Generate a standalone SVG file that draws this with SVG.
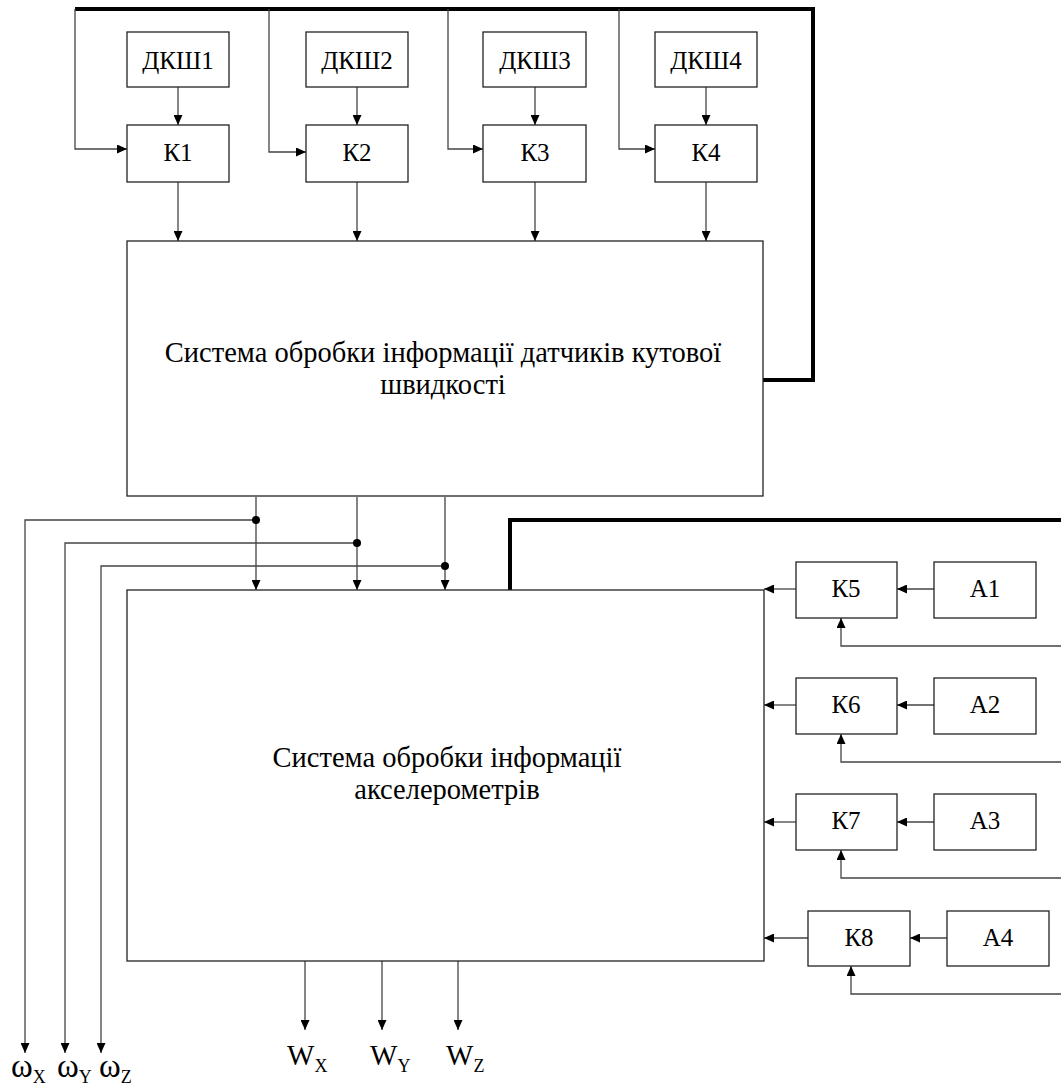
<svg xmlns="http://www.w3.org/2000/svg" width="1061" height="1089" viewBox="0 0 1061 1089" font-family="'Liberation Serif', 'Times New Roman', serif">
<defs>
<style>
.box{fill:#fff;stroke:#222;stroke-width:1.3}
.ln{fill:none;stroke:#444;stroke-width:1.3}
.arr{marker-end:url(#ah)}
.thick{fill:none;stroke:#000;stroke-width:4}
text{font-family:'Liberation Serif','Times New Roman',serif;fill:#000}
.lbl{font-size:25px;text-anchor:middle}
.big{font-size:28.5px;text-anchor:middle}
.out{font-size:29px}
.om{font-size:33px}
.sub{font-size:18px}
</style>
<marker id="ah" markerUnits="userSpaceOnUse" markerWidth="10" markerHeight="9" refX="10" refY="4.5" orient="auto">
<path d="M0,0 L10,4.5 L0,9 z" fill="#000"/>
</marker>
</defs>
<rect width="1061" height="1089" fill="#fff"/>
<g id="connectors">
<path class="thick" d="M75,9 H813 V380 H763"/>
<path class="thick" d="M510,590 V520 H1061"/>
<path class="ln arr" d="M75,9 V149 H127"/>
<path class="ln arr" d="M269,9 V152 H306"/>
<path class="ln arr" d="M448,9 V149 H483"/>
<path class="ln arr" d="M619,9 V149 H655"/>
<path class="ln arr" d="M178,87 V125"/>
<path class="ln arr" d="M357,87 V125"/>
<path class="ln arr" d="M535,87 V125"/>
<path class="ln arr" d="M706,87 V125"/>
<path class="ln arr" d="M178,182 V241"/>
<path class="ln arr" d="M357,182 V241"/>
<path class="ln arr" d="M535,182 V241"/>
<path class="ln arr" d="M706,182 V241"/>
<path class="ln arr" d="M256,497 V590"/>
<path class="ln arr" d="M357,497 V590"/>
<path class="ln arr" d="M445,497 V590"/>
<path class="ln arr" d="M256,520 H25 V1053"/>
<path class="ln arr" d="M357,543 H65 V1053"/>
<path class="ln arr" d="M445,566 H101 V1053"/>
<circle cx="256" cy="520" r="4" fill="#000"/>
<circle cx="357" cy="543" r="4" fill="#000"/>
<circle cx="445" cy="566" r="4" fill="#000"/>
<path class="ln arr" d="M305,961 V1030"/>
<path class="ln arr" d="M382,961 V1030"/>
<path class="ln arr" d="M458,961 V1030"/>
<path class="ln arr" d="M796,589 H764"/>
<path class="ln arr" d="M934,589 H897"/>
<path class="ln arr" d="M1061,646 H841 V618"/>
<path class="ln arr" d="M796,705 H764"/>
<path class="ln arr" d="M934,705 H897"/>
<path class="ln arr" d="M1061,762 H841 V734"/>
<path class="ln arr" d="M796,822 H764"/>
<path class="ln arr" d="M934,822 H897"/>
<path class="ln arr" d="M1061,878 H841 V850"/>
<path class="ln arr" d="M808,938 H764"/>
<path class="ln arr" d="M947,938 H910"/>
<path class="ln arr" d="M1061,994 H851 V966"/>
</g>
<g id="dksh1"><rect class="box" x="127" y="32" width="102" height="55"/><text class="lbl" x="178" y="69">ДКШ1</text></g>
<g id="dksh2"><rect class="box" x="306" y="32" width="102" height="55"/><text class="lbl" x="357" y="69">ДКШ2</text></g>
<g id="dksh3"><rect class="box" x="483" y="32" width="103" height="55"/><text class="lbl" x="535" y="69">ДКШ3</text></g>
<g id="dksh4"><rect class="box" x="655" y="32" width="102" height="55"/><text class="lbl" x="706" y="69">ДКШ4</text></g>
<g id="k1"><rect class="box" x="127" y="125" width="102" height="57"/><text class="lbl" x="178" y="161">К1</text></g>
<g id="k2"><rect class="box" x="306" y="125" width="102" height="57"/><text class="lbl" x="357" y="161">К2</text></g>
<g id="k3"><rect class="box" x="483" y="125" width="103" height="57"/><text class="lbl" x="535" y="161">К3</text></g>
<g id="k4"><rect class="box" x="655" y="125" width="102" height="57"/><text class="lbl" x="706" y="161">К4</text></g>
<g id="sys1"><rect class="box" x="127" y="241" width="636" height="255"/><text class="big" x="443" y="362">Система обробки інформації датчиків кутової</text><text class="big" x="443" y="394">швидкості</text></g>
<g id="sys2"><rect class="box" x="127" y="590" width="637" height="371"/><text class="big" x="447" y="767">Система обробки інформації</text><text class="big" x="447" y="799">акселерометрів</text></g>
<g id="k5"><rect class="box" x="796" y="562" width="101" height="56"/><text class="lbl" x="846" y="597">К5</text></g>
<g id="a1"><rect class="box" x="934" y="562" width="102" height="56"/><text class="lbl" x="985" y="597">А1</text></g>
<g id="k6"><rect class="box" x="796" y="678" width="101" height="56"/><text class="lbl" x="846" y="713">К6</text></g>
<g id="a2"><rect class="box" x="934" y="678" width="102" height="56"/><text class="lbl" x="985" y="713">А2</text></g>
<g id="k7"><rect class="box" x="796" y="794" width="101" height="56"/><text class="lbl" x="846" y="829">К7</text></g>
<g id="a3"><rect class="box" x="934" y="794" width="102" height="56"/><text class="lbl" x="985" y="829">А3</text></g>
<g id="k8"><rect class="box" x="808" y="911" width="102" height="55"/><text class="lbl" x="859" y="946">К8</text></g>
<g id="a4"><rect class="box" x="947" y="911" width="102" height="55"/><text class="lbl" x="998" y="946">А4</text></g>
<g id="outputs">
<text class="out" x="11" y="1077"><tspan class="om">ω</tspan><tspan class="sub" dy="6">X</tspan></text>
<text class="out" x="57" y="1077"><tspan class="om">ω</tspan><tspan class="sub" dy="6">Y</tspan></text>
<text class="out" x="99" y="1077"><tspan class="om">ω</tspan><tspan class="sub" dy="6">Z</tspan></text>
<text class="out" x="287" y="1065">W<tspan class="sub" dy="7">X</tspan></text>
<text class="out" x="370" y="1065">W<tspan class="sub" dy="7">Y</tspan></text>
<text class="out" x="446" y="1065">W<tspan class="sub" dy="7">Z</tspan></text>
</g>
</svg>
